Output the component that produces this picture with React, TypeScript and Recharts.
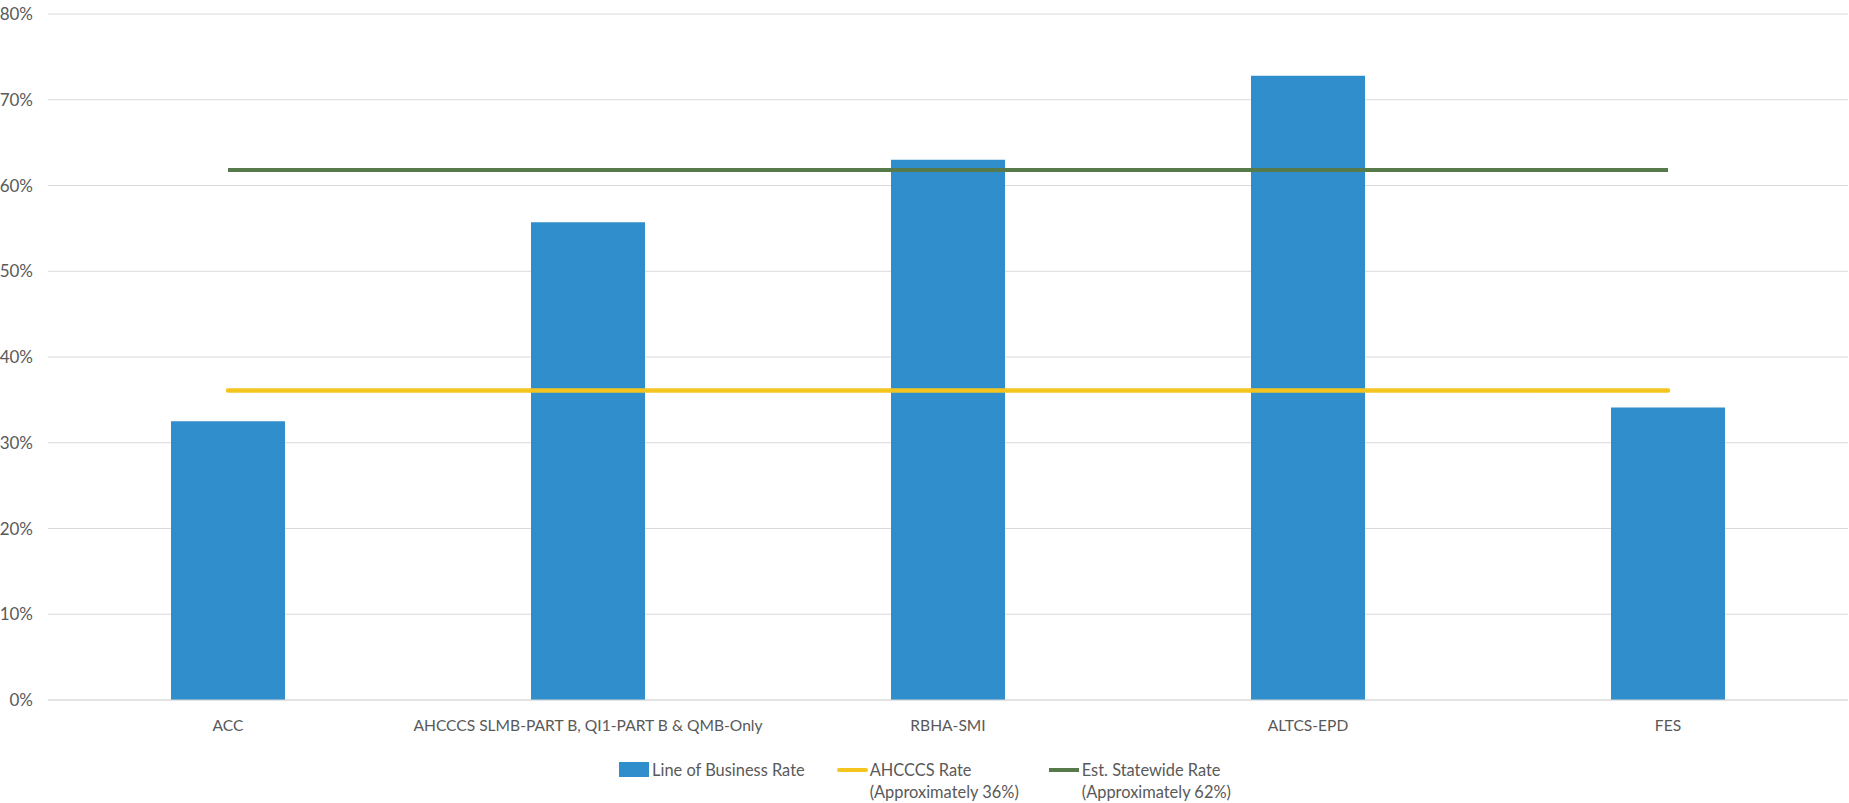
import { ComposedChart, Bar, Line, XAxis, YAxis, CartesianGrid, Legend } from 'recharts';

const categories = ['ACC', 'AHCCCS SLMB-PART B, QI1-PART B & QMB-Only', 'RBHA-SMI', 'ALTCS-EPD', 'FES'];
const lineOfBusinessRate = [32.5, 55.7, 63.0, 72.8, 34.1];
const ahcccsRate = [36.1, 36.1, 36.1, 36.1, 36.1];
const statewideRate = [61.8, 61.8, 61.8, 61.8, 61.8];
const yTicks = [0, 10, 20, 30, 40, 50, 60, 70, 80];

const BLUE = '#318ECC';
const YELLOW = '#F3C51E';
const GREEN = '#577A4C';
const TEXT = '#595959';
const GRID = '#D9D9D9';
const FONT = 'Lato, "Open Sans", sans-serif';

const data = categories.map((name, i) => ({
  name,
  lob: lineOfBusinessRate[i],
  ahcccs: ahcccsRate[i],
  statewide: statewideRate[i]
}));

function ChartLegend() {
  const text = { color: TEXT, fontSize: 16.4, lineHeight: '22px', fontFamily: FONT };
  return (
    <div style={{ height: 44, boxSizing: 'border-box', display: 'flex', justifyContent: 'center', marginLeft: 2 }}>
      <div style={{ display: 'flex', alignItems: 'flex-start', marginRight: 32 }}>
        <div style={{ width: 30, height: 15, background: BLUE, marginTop: 3, marginRight: 3 }} />
        <div style={text}>Line of Business Rate</div>
      </div>
      <div style={{ display: 'flex', alignItems: 'flex-start', marginRight: 30 }}>
        <div style={{ width: 31, height: 4, background: YELLOW, marginTop: 9, marginRight: 2, borderRadius: 2 }} />
        <div style={text}>AHCCCS Rate<br />(Approximately 36%)</div>
      </div>
      <div style={{ display: 'flex', alignItems: 'flex-start' }}>
        <div style={{ width: 30, height: 4, background: GREEN, marginTop: 9, marginRight: 3 }} />
        <div style={text}>Est. Statewide Rate<br />(Approximately 62%)</div>
      </div>
    </div>
  );
}

export default function App() {
  return (
    <div style={{ position: 'absolute', left: 0, top: 0, width: 1849, height: 803, background: '#fff' }}>
      <ComposedChart width={1849} height={803} data={data} margin={{ top: 14, right: 1, left: 0, bottom: 0 }}>
        <CartesianGrid stroke={GRID} vertical={false} />
        <XAxis
          dataKey="name"
          height={59}
          tick={{ fill: TEXT, fontSize: 15.6, fontFamily: FONT }}
          axisLine={{ stroke: GRID }}
          tickLine={false}
          tickMargin={14}
          interval={0}
        />
        <YAxis
          width={48}
          domain={[0, 80]}
          ticks={yTicks}
          tickFormatter={(v) => `${v}%`}
          tick={{ fill: TEXT, fontSize: 17, fontFamily: FONT }}
          axisLine={false}
          tickLine={false}
          tickMargin={9}
        />
        <Legend verticalAlign="bottom" content={() => <ChartLegend />} />
        <Bar dataKey="lob" fill={BLUE} barSize={114} isAnimationActive={false} />
        <Line dataKey="ahcccs" stroke={YELLOW} strokeWidth={4.5} strokeLinecap="round" dot={false} activeDot={false} isAnimationActive={false} />
        <Line dataKey="statewide" stroke={GREEN} strokeWidth={4} dot={false} activeDot={false} isAnimationActive={false} />
      </ComposedChart>
    </div>
  );
}
